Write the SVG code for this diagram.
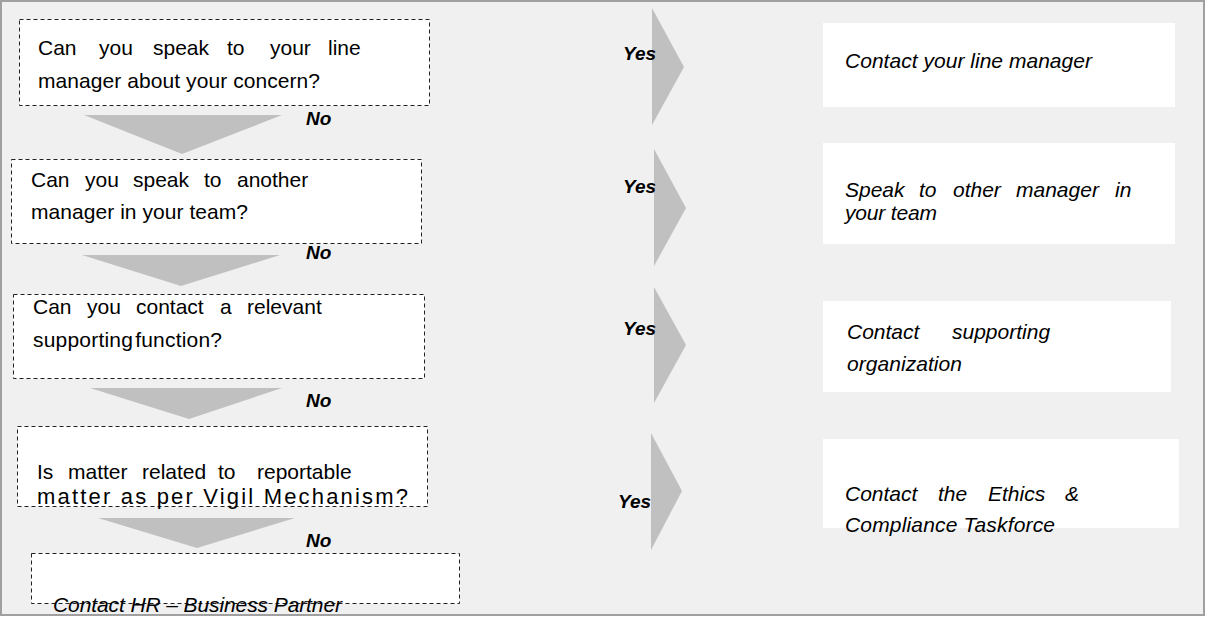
<svg xmlns="http://www.w3.org/2000/svg" width="1206" height="617" viewBox="0 0 1206 617">
<style>
.q{fill:#fff;stroke:#222;stroke-width:1;stroke-dasharray:4 3}
.r{fill:#fff;stroke:none}
.t{font-family:"Liberation Sans",Arial,sans-serif;font-size:21px;fill:#000}
.i{font-family:"Liberation Sans",Arial,sans-serif;font-size:21px;font-style:italic;fill:#000}
.l{font-family:"Liberation Sans",Arial,sans-serif;font-size:19px;font-style:italic;font-weight:bold;fill:#000}
.a{fill:#c0c0c0}
</style>
<rect x="1" y="1" width="1203" height="614" fill="#f0f0f0" stroke="#a0a0a0" stroke-width="2"/>

<g id="q1">
<rect class="q" x="19.5" y="19.5" width="410" height="86"/>
<text class="t" y="55"><tspan x="38">Can</tspan><tspan x="99">you</tspan><tspan x="153">speak</tspan><tspan x="227">to</tspan><tspan x="270">your</tspan><tspan x="328">line</tspan></text>
<text class="t" x="38" y="88" textLength="282" lengthAdjust="spacing">manager about your concern?</text>
</g>
<g id="q2">
<rect class="q" x="11.5" y="159.5" width="410" height="84"/>
<text class="t" y="187"><tspan x="31">Can</tspan><tspan x="85">you</tspan><tspan x="133">speak</tspan><tspan x="204">to</tspan><tspan x="237">another</tspan></text>
<text class="t" x="31" y="219" textLength="217" lengthAdjust="spacing">manager in your team?</text>
</g>
<g id="q3">
<rect class="q" x="13.5" y="294.5" width="411" height="84"/>
<text class="t" y="314"><tspan x="33">Can</tspan><tspan x="87">you</tspan><tspan x="136">contact</tspan><tspan x="220">a</tspan><tspan x="247">relevant</tspan></text>
<text class="t" x="33" y="347" textLength="189" lengthAdjust="spacing" word-spacing="-4">supporting function?</text>
</g>
<g id="q4">
<rect class="q" x="17.5" y="426.5" width="410" height="80"/>
<text class="t" y="479"><tspan x="37">Is</tspan><tspan x="68">matter</tspan><tspan x="142">related</tspan><tspan x="218">to</tspan><tspan x="257">reportable</tspan></text>
<text class="t" x="37" y="504" style="font-size:22px" textLength="371" lengthAdjust="spacing">matter as per Vigil Mechanism?</text>
</g>
<g id="hr">
<rect class="q" x="31.5" y="553.5" width="428" height="50"/>
<text class="i" x="53" y="612" textLength="289" lengthAdjust="spacing">Contact HR – Business Partner</text>
</g>

<g id="a1">
<rect class="r" x="823" y="23" width="352" height="84"/>
<text class="i" x="845" y="68" textLength="247" lengthAdjust="spacing">Contact your line manager</text>
</g>
<g id="a2">
<rect class="r" x="823" y="143" width="352" height="101"/>
<text class="i" y="197"><tspan x="845">Speak</tspan><tspan x="919">to</tspan><tspan x="953">other</tspan><tspan x="1016">manager</tspan><tspan x="1115">in</tspan></text>
<text class="i" x="845" y="220" textLength="92" lengthAdjust="spacing">your team</text>
</g>
<g id="a3">
<rect class="r" x="823" y="301" width="348" height="91"/>
<text class="i" y="339"><tspan x="847">Contact</tspan><tspan x="952">supporting</tspan></text>
<text class="i" x="847" y="371" textLength="115" lengthAdjust="spacing">organization</text>
</g>
<g id="a4">
<rect class="r" x="823" y="439" width="356" height="89"/>
<text class="i" y="501"><tspan x="845">Contact</tspan><tspan x="938">the</tspan><tspan x="988">Ethics</tspan><tspan x="1065">&amp;</tspan></text>
<text class="i" x="845" y="532" textLength="210" lengthAdjust="spacing">Compliance Taskforce</text>
</g>

<g id="connectors">
<polygon class="a" points="84,115 282,115 182,154"/>
<polygon class="a" points="82,255 280,255 181,286"/>
<polygon class="a" points="90,388 282,388 189,419"/>
<polygon class="a" points="98,518 295,518 197,548"/>
<text class="l" x="306" y="125">No</text>
<text class="l" x="306" y="259">No</text>
<text class="l" x="306" y="407">No</text>
<text class="l" x="306" y="547">No</text>
<polygon class="a" points="652,8 684,67 652,125"/>
<polygon class="a" points="654,149 686,208 654,266"/>
<polygon class="a" points="654,287 686,345 654,403"/>
<polygon class="a" points="651,433 682,491 651,550"/>
<text class="l" x="623" y="60">Yes</text>
<text class="l" x="623" y="193">Yes</text>
<text class="l" x="623" y="335">Yes</text>
<text class="l" x="618" y="508">Yes</text>
</g>
</svg>
